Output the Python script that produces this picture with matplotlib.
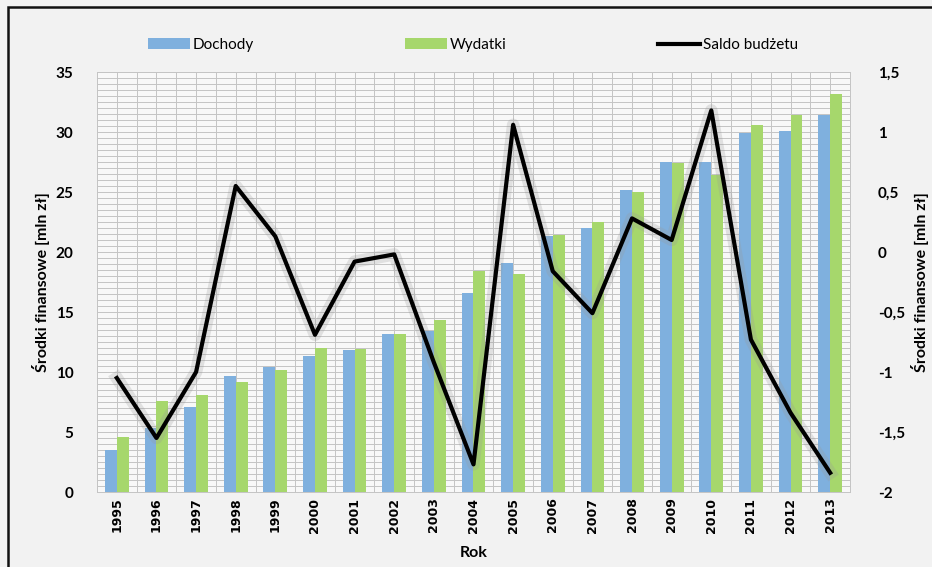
import numpy as np
import matplotlib
matplotlib.use("Agg")
import matplotlib.pyplot as plt
import matplotlib.patheffects as pe
from matplotlib.patches import Rectangle
from matplotlib.lines import Line2D
from matplotlib.ticker import MultipleLocator, FuncFormatter

years = [str(y) for y in range(1995, 2014)]
dochody = [3.5, 5.3, 7.1, 9.7, 10.4, 11.3, 11.8, 13.2, 13.4, 16.6,
           19.1, 21.3, 22.0, 25.2, 27.5, 27.5, 29.9, 30.1, 31.4]
wydatki = [4.6, 7.6, 8.1, 9.2, 10.2, 12.0, 11.9, 13.2, 14.3, 18.4,
           18.2, 21.4, 22.5, 25.0, 27.4, 26.4, 30.6, 31.4, 33.2]
saldo = [-1.05, -1.55, -1.0, 0.55, 0.13, -0.69, -0.08, -0.02, -0.92, -1.77,
         1.06, -0.16, -0.51, 0.28, 0.10, 1.18, -0.73, -1.34, -1.84]

plt.rcParams['font.family'] = ['Lato', 'DejaVu Sans']

fig = plt.figure(figsize=(9.32, 5.67), dpi=100, facecolor='#f2f2f2')
fig.patches.append(Rectangle((8 / 932, -0.02), 1.0, 1 - 7 / 567 + 0.02,
                             transform=fig.transFigure, fill=False,
                             edgecolor='#111111', linewidth=1.8))

ax = fig.add_axes([97 / 932, 75 / 567, 753 / 932, 420 / 567])
ax.set_facecolor('#f8f8f8')
x = np.arange(len(years))
w = 0.3
ax.bar(x - w / 2, dochody, w, color='#7fb0de', label='Dochody', zorder=2)
ax.bar(x + w / 2, wydatki, w, color='#a6d76c', label='Wydatki', zorder=2)

ax.set_xlim(-0.5, len(years) - 0.5)
ax.set_ylim(0, 35)
ax.set_xticks(x)
ax.set_xticklabels(years, rotation=90, fontsize=9, fontweight='bold',
                   family='DejaVu Sans')
ax.xaxis.set_minor_locator(MultipleLocator(0.5))
ax.yaxis.set_major_locator(MultipleLocator(5))
ax.yaxis.set_minor_locator(MultipleLocator(0.5))
ax.grid(True, which='both', color='#c4c4c4', linewidth=0.7)
ax.set_axisbelow(True)
ax.tick_params(which='both', length=0)
ax.tick_params(axis='y', pad=17, labelsize=11)
ax.tick_params(axis='x', pad=4)
for t in ax.get_yticklabels():
    t.set_fontweight('bold')
for s in ax.spines.values():
    s.set_color('#c4c4c4')
    s.set_linewidth(0.7)
ax.set_ylabel('Środki finansowe [mln zł]', fontsize=11.5, fontweight='bold')
ax.yaxis.set_label_coords(-0.062, 0.5)
ax.set_xlabel('Rok', fontsize=11.5, fontweight='bold')
ax.xaxis.set_label_coords(0.5, -0.128)

ax2 = ax.twinx()
ax2.plot(x, saldo, color='black', linewidth=3, zorder=3,
         path_effects=[pe.Stroke(linewidth=9, foreground='#999999', alpha=0.25),
                       pe.Normal()])
ax2.set_ylim(-2, 1.5)
ax2.yaxis.set_major_locator(MultipleLocator(0.5))
ax2.yaxis.set_major_formatter(FuncFormatter(lambda v, p: f"{v:g}".replace('.', ',')))
ax2.tick_params(length=0, pad=20, labelsize=11)
for t in ax2.get_yticklabels():
    t.set_fontweight('bold')
for s in ax2.spines.values():
    s.set_visible(False)
ax2.set_ylabel('Środki finansowe [mln zł]', fontsize=11.5, fontweight='bold')
ax2.yaxis.set_label_coords(1.081, 0.5)

h1, l1 = ax.get_legend_handles_labels()
line_handle = Line2D([], [], color='black', linewidth=3)
fig.legend(h1 + [line_handle], l1 + ['Saldo budżetu'], ncol=3, loc='lower left',
           bbox_to_anchor=(148 / 932, 1 - 52 / 567, 650 / 932, 20 / 567),
           mode='expand', frameon=False, fontsize=11, handlelength=2.75,
           handleheight=0.7, handletextpad=0.2, borderaxespad=0, borderpad=0)

fig.savefig('out.png', dpi=100, facecolor=fig.get_facecolor())
